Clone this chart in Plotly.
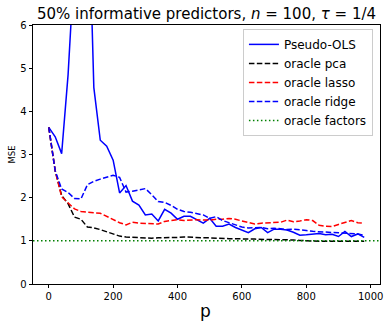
import plotly.graph_objects as go

p = list(range(0, 1000, 20))

pseudo_ols = [3.63, 3.41, 3.02, 4.85, 7.5, 11.0, 9.9, 4.55, 3.33, 3.19,
              2.87, 2.11, 2.28, 1.92, 1.83, 1.60, 1.62, 1.46, 1.73, 1.64,
              1.50, 1.57, 1.57, 1.48, 1.41, 1.52, 1.34, 1.34, 1.39, 1.31,
              1.25, 1.19, 1.28, 1.31, 1.19, 1.27, 1.27, 1.25, 1.20, 1.13,
              1.14, 1.15, 1.17, 1.14, 1.15, 1.10, 1.22, 1.10, 1.16, 1.08]

oracle_pca = [3.63, 2.62, 2.05, 1.86, 1.55, 1.50, 1.32, 1.30, 1.26, 1.21,
              1.15, 1.11, 1.09, 1.08, 1.07, 1.06, 1.06, 1.07, 1.07, 1.08,
              1.08, 1.09, 1.08, 1.08, 1.07, 1.07, 1.06, 1.05, 1.05, 1.05,
              1.04, 1.04, 1.04, 1.03, 1.03, 1.03, 1.03, 1.02, 1.02, 1.01,
              1.00, 1.00, 0.99, 0.99, 0.99, 0.99, 0.99, 0.99, 0.99, 0.99]

oracle_lasso = [3.63, 2.62, 2.02, 1.87, 1.74, 1.68, 1.66, 1.65, 1.64, 1.57,
                1.49, 1.42, 1.37, 1.43, 1.41, 1.40, 1.40, 1.39, 1.45, 1.47,
                1.49, 1.47, 1.48, 1.49, 1.48, 1.48, 1.50, 1.50, 1.52, 1.50,
                1.46, 1.42, 1.39, 1.41, 1.42, 1.42, 1.43, 1.48, 1.44, 1.46,
                1.49, 1.47, 1.36, 1.34, 1.33, 1.38, 1.42, 1.47, 1.42, 1.41]

oracle_ridge = [3.63, 2.62, 2.20, 2.12, 1.98, 1.97, 2.30, 2.38, 2.43, 2.48,
                2.52, 2.47, 2.13, 2.15, 2.18, 2.21, 2.07, 1.91, 1.89, 1.82,
                1.73, 1.68, 1.66, 1.63, 1.60, 1.52, 1.56, 1.47, 1.42, 1.37,
                1.32, 1.30, 1.31, 1.31, 1.28, 1.29, 1.28, 1.26, 1.27, 1.26,
                1.24, 1.22, 1.21, 1.21, 1.19, 1.18, 1.18, 1.17, 1.16, 1.13]

oracle_factors = 1.0

x_ticks = [0, 200, 400, 600, 800, 1000]
y_ticks = [0, 1, 2, 3, 4, 5, 6]

# axis range with 5% margins (matplotlib style)
span = max(p) - min(p)
x_range = [min(p) - 0.05 * span, max(p) + 0.05 * span]

DASH = "5.5px,2.4px"
DOT = "1.5px,2.5px"

fig = go.Figure()
fig.add_trace(go.Scatter(x=p, y=pseudo_ols, mode="lines", name="Pseudo-OLS",
                         line=dict(color="#0000ff", width=1.5)))
fig.add_trace(go.Scatter(x=p, y=oracle_pca, mode="lines", name="oracle pca",
                         line=dict(color="#000000", width=1.5, dash=DASH)))
fig.add_trace(go.Scatter(x=p, y=oracle_lasso, mode="lines", name="oracle lasso",
                         line=dict(color="#ff0000", width=1.5, dash=DASH)))
fig.add_trace(go.Scatter(x=p, y=oracle_ridge, mode="lines", name="oracle ridge",
                         line=dict(color="#0000ff", width=1.5, dash=DASH)))
fig.add_trace(go.Scatter(x=x_range, y=[oracle_factors] * 2, mode="lines",
                         name="oracle factors",
                         line=dict(color="#008000", width=1.5, dash=DOT)))

font = "DejaVu Sans, Liberation Sans, sans-serif"

fig.update_layout(
    width=390, height=330,
    margin=dict(l=33, r=10, t=25, b=46, autoexpand=False),
    paper_bgcolor="white", plot_bgcolor="white",
    font=dict(family=font, color="black", size=10),
    title=dict(text="50% informative predictors, <i>n</i> = 100, <i>τ</i> = 1/4",
               x=0.5, xref="paper", xanchor="center",
               y=1 - 13.5 / 330, yref="container", yanchor="middle",
               font=dict(size=15, family=font, color="black")),
    legend=dict(x=0.605, xanchor="left", y=0.985, yanchor="top",
                bgcolor="rgba(255,255,255,0.8)", bordercolor="#cccccc",
                borderwidth=1, font=dict(size=12, family=font, color="black"),
                tracegroupgap=0),
    showlegend=True,
    hovermode=False,
    annotations=[
        dict(text="MSE", xref="paper", yref="paper", x=-22 / 347, y=0.5,
             xanchor="center", yanchor="middle", textangle=-90, showarrow=False,
             font=dict(size=8.5, family=font, color="black")),
        dict(text="p", xref="paper", yref="paper", x=(205 - 33) / 347,
             y=-(311 - 284) / 259, xanchor="center", yanchor="middle",
             showarrow=False, font=dict(size=17, family=font, color="black")),
    ],
)
fig.update_xaxes(range=x_range, tickvals=x_ticks, ticks="outside", ticklen=3.5,
                 tickwidth=0.8, tickcolor="black", showline=True, linecolor="black",
                 linewidth=0.8, mirror=True, showgrid=False, zeroline=False,
                 tickfont=dict(size=10), automargin=False)
fig.update_yaxes(range=[0, 6], tickvals=y_ticks, ticks="outside", ticklen=3.5,
                 tickwidth=0.8, tickcolor="black", showline=True, linecolor="black",
                 linewidth=0.8, mirror=True, showgrid=False, zeroline=False,
                 tickfont=dict(size=10), automargin=False)

fig.write_html("out.html", config={"displayModeBar": False},
               post_script="document.body.style.margin='0';"
                           "document.body.style.overflow='hidden';")
